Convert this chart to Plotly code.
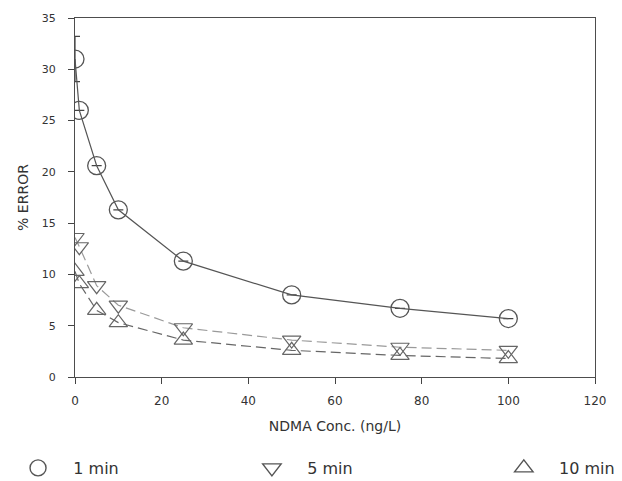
import plotly.graph_objects as go

conc = [0, 1, 5, 10, 25, 50, 75, 100]
err_1min = [31.0, 26.0, 20.6, 16.3, 11.3, 8.0, 6.7, 5.7]
err_1min_bar = [2.2, 0, 0, 0, 0, 0, 0, 0]
err_5min = [13.6, 12.7, 8.9, 7.0, 4.8, 3.6, 2.9, 2.6]
err_10min = [10.3, 9.1, 6.5, 5.3, 3.6, 2.6, 2.1, 1.8]
x_ticks = [0, 20, 40, 60, 80, 100, 120]
y_ticks = [0, 5, 10, 15, 20, 25, 30, 35]
series_names = ["1 min", "5 min", "10 min"]

FONT = "DejaVu Sans, Liberation Sans, Arial, sans-serif"

fig = go.Figure()
fig.add_trace(go.Scatter(
    x=conc, y=err_1min, mode="lines+markers", name=series_names[0], showlegend=False,
    line=dict(color="#555555", width=1.2),
    marker=dict(symbol="circle-open", size=18, color="#555555", line=dict(width=1.3)),
    error_y=dict(type="data", array=err_1min_bar, color="#444444", thickness=1.2, width=5),
))
fig.add_trace(go.Scatter(
    x=conc, y=err_5min, mode="lines+markers", name=series_names[1], showlegend=False,
    line=dict(color="#9a9a9a", width=1.2, dash="10px,5px"),
    marker=dict(symbol="triangle-down-open", size=16, color="#666666", line=dict(width=1.2)),
))
fig.add_trace(go.Scatter(
    x=conc, y=err_10min, mode="lines+markers", name=series_names[2], showlegend=False,
    line=dict(color="#666666", width=1.2, dash="10px,5px"),
    marker=dict(symbol="triangle-up-open", size=16, color="#666666", line=dict(width=1.2)),
))
# legend-only entries (markers only), each in its own legend box
legend_ids = ["legend", "legend2", "legend3"]
symbols = ["circle-open", "triangle-down-open", "triangle-up-open"]
for nm, sym, lg in zip(series_names, symbols, legend_ids):
    fig.add_trace(go.Scatter(
        x=[None], y=[None], mode="markers", name="\u00a0\u00a0\u00a0" + nm, legend=lg,
        marker=dict(symbol=sym, size=18, color="#555555", line=dict(width=1.4)),
    ))

legend_common = dict(orientation="h", xanchor="left", y=0.027, yanchor="middle",
                     xref="container", yref="container",
                     font=dict(size=16, color="#333333"), itemsizing="trace",
                     bgcolor="rgba(0,0,0,0)")

fig.update_layout(
    width=622, height=481,
    margin=dict(l=75, r=27, t=15, b=104),
    paper_bgcolor="white", plot_bgcolor="white",
    font=dict(family=FONT, size=12, color="#333333"),
    legend=dict(x=0.029, **legend_common),
    legend2=dict(x=0.405, **legend_common),
    legend3=dict(x=0.810, **legend_common),
    xaxis=dict(range=[0, 120], tickvals=x_ticks, ticks="outside", ticklen=6,
               ticklabelstandoff=6,
               showline=True, linecolor="#4d4d4d", linewidth=1.2, mirror=True,
               showgrid=False, zeroline=False,
               title=dict(text="NDMA Conc. (ng/L)", font=dict(size=14), standoff=14),
               tickfont=dict(size=12)),
    yaxis=dict(range=[0, 35], tickvals=y_ticks, ticks="outside", ticklen=6,
               ticklabelstandoff=10,
               showline=True, linecolor="#4d4d4d", linewidth=1.2, mirror=True,
               showgrid=False, zeroline=False,
               title=dict(text="% ERROR", font=dict(size=14), standoff=9),
               tickfont=dict(size=11)),
)

fig.write_html("out.html")
